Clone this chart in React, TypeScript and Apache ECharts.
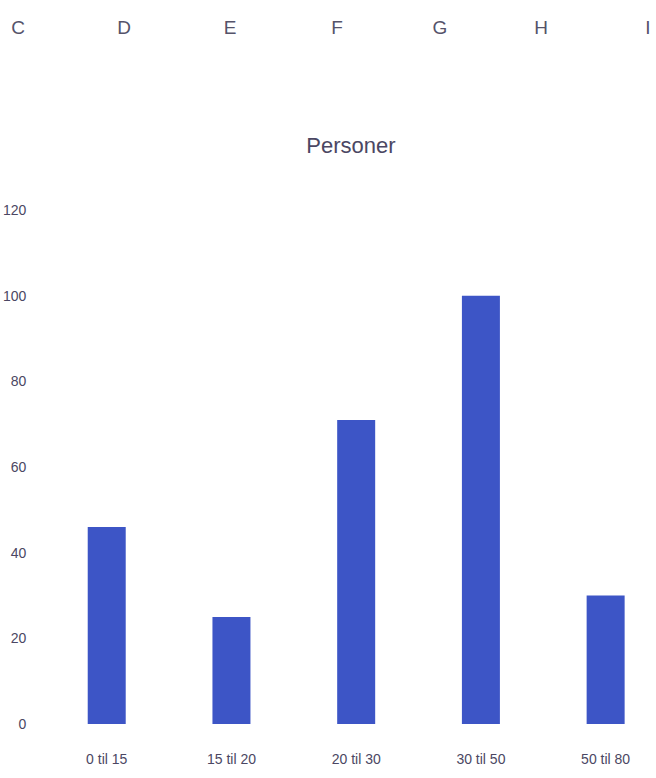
import React, { useEffect, useRef } from "react";
import * as echarts from "echarts";

const categories = ["0 til 15", "15 til 20", "20 til 30", "30 til 50", "50 til 80"];
const personer = [46, 25, 71, 100, 30];
const columnLetters = ["C", "D", "E", "F", "G", "H", "I"];
const chartTitle = "Personer";

const FONT = "'Liberation Sans Narrow', 'Liberation Sans', sans-serif";
const TEXT = "#4b4763";

export default function App() {
  const ref = useRef<HTMLDivElement>(null);
  useEffect(() => {
    if (!ref.current) return;
    const chart = echarts.init(ref.current, null, { renderer: "svg" });
    const letterX = [18, 124, 230, 337, 440, 541, 648];
    chart.setOption({
      animation: false,
      backgroundColor: "#ffffff",
      title: {
        text: chartTitle,
        left: 346,
        top: 129,
        textAlign: "center",
        textStyle: { fontFamily: FONT, fontSize: 22, fontWeight: "normal", color: TEXT },
      },
      graphic: columnLetters.map((l, i) => ({
        type: "text",
        x: letterX[i],
        y: 27,
        style: {
          text: l,
          fontFamily: FONT,
          fontSize: 19,
          fill: "#55536a",
          textAlign: "center",
          textVerticalAlign: "middle",
        },
      })),
      grid: { left: 43, top: 210, width: 625, height: 514 },
      xAxis: {
        type: "category",
        data: categories,
        axisLine: { show: false },
        axisTick: { show: false },
        axisLabel: { margin: 28, fontFamily: FONT, fontSize: 14, color: TEXT },
      },
      yAxis: {
        type: "value",
        min: 0,
        max: 120,
        interval: 20,
        axisLine: { show: false },
        axisTick: { show: false },
        splitLine: { show: false },
        axisLabel: { margin: 18, fontFamily: FONT, fontSize: 14, color: TEXT },
      },
      series: [
        {
          type: "bar",
          data: personer,
          barWidth: 38,
          itemStyle: { color: "#3d55c6" },
        },
      ],
    });
    return () => chart.dispose();
  }, []);
  return (
    <div
      style={{ position: "absolute", left: 0, top: 0, width: 656, height: 778, overflow: "hidden", background: "#fff" }}
    >
      <div ref={ref} style={{ width: 700, height: 778 }} />
    </div>
  );
}
